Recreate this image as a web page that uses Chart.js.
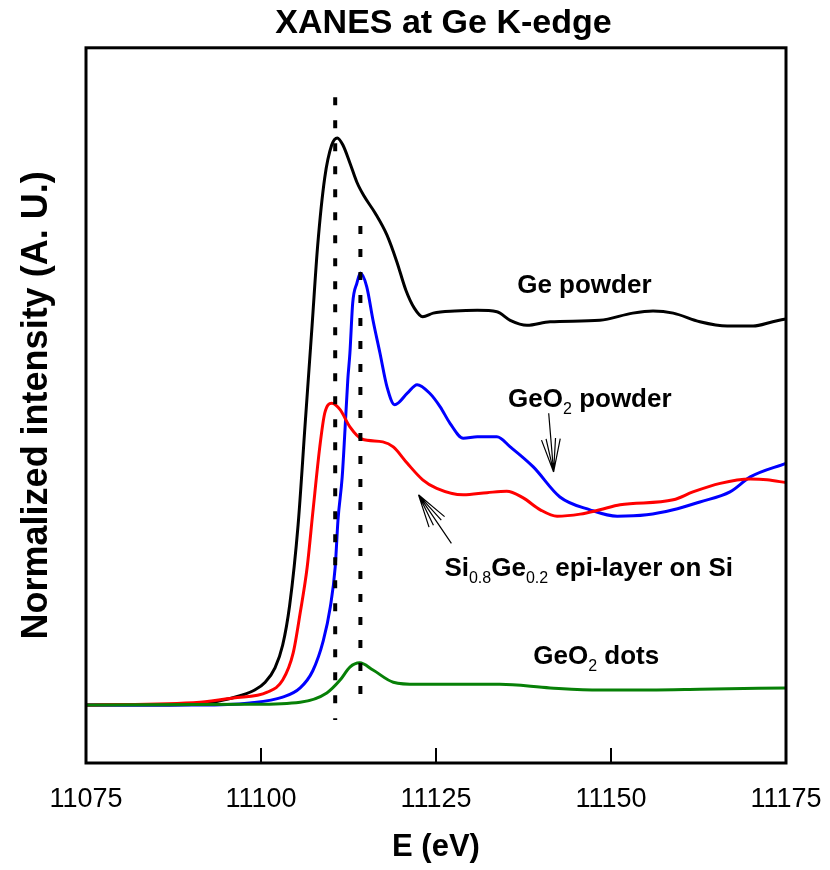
<!DOCTYPE html>
<html>
<head>
<meta charset="utf-8">
<script src="https://cdn.jsdelivr.net/npm/chart.js@4"></script>
<style>
  body { margin: 0; background: #fff; }
  #wrap { width: 830px; height: 870px; }
</style>
</head>
<body>
<div id="wrap"><canvas id="xanes"></canvas></div>
<script>
// energies (eV) and normalized intensity
const geE = [11075, 11085, 11091.3, 11094.1, 11097, 11099.1, 11100.6, 11102, 11103.1, 11104.1, 11105.3, 11106.3, 11107.3, 11108.1, 11109.1, 11110.1, 11110.9, 11111.7, 11112.7, 11113.7, 11114.7, 11116.3, 11118, 11119.4, 11120.7, 11121.9, 11123.1, 11124.6, 11127.7, 11130.9, 11133.7, 11135.6, 11138, 11141.3, 11148.4, 11153.1, 11156, 11158.9, 11162.7, 11166.6, 11170.3, 11173.1, 11175];
const geI = [0, 0, 0.001, 0.006, 0.013, 0.021, 0.032, 0.052, 0.084, 0.140, 0.252, 0.392, 0.531, 0.643, 0.737, 0.783, 0.793, 0.783, 0.758, 0.731, 0.712, 0.688, 0.657, 0.620, 0.580, 0.555, 0.543, 0.548, 0.551, 0.552, 0.550, 0.538, 0.531, 0.536, 0.538, 0.548, 0.551, 0.548, 0.536, 0.530, 0.530, 0.536, 0.540];

const geo2E = [11075, 11091.3, 11098.4, 11103.1, 11105.6, 11107.4, 11108.9, 11109.9, 11110.6, 11111, 11111.6, 11112, 11112.4, 11112.7, 11113.1, 11113.7, 11114.2, 11115.1, 11116, 11117, 11118, 11119.1, 11120.9, 11122.3, 11124.1, 11125.6, 11127, 11128.9, 11130.9, 11133.7, 11135.6, 11138.9, 11142.7, 11147, 11150.9, 11155.1, 11158.9, 11162.7, 11167, 11169.9, 11175];
const geo2I = [0, 0, 0.003, 0.011, 0.024, 0.048, 0.090, 0.137, 0.193, 0.259, 0.319, 0.385, 0.455, 0.492, 0.562, 0.590, 0.604, 0.585, 0.538, 0.492, 0.445, 0.420, 0.436, 0.448, 0.436, 0.417, 0.394, 0.373, 0.375, 0.375, 0.361, 0.333, 0.291, 0.273, 0.264, 0.266, 0.273, 0.284, 0.298, 0.319, 0.338];

const sigeE = [11075, 11091.3, 11096, 11100.9, 11103.1, 11104.6, 11105.6, 11106.6, 11107.4, 11108.4, 11109.1, 11110.1, 11111.3, 11112.7, 11114.4, 11117.4, 11118.9, 11120.9, 11123.1, 11125.1, 11128.9, 11132.3, 11135.1, 11137.4, 11139.9, 11142.3, 11145.6, 11148.4, 11151.3, 11158.9, 11161.7, 11165.6, 11169.9, 11172.3, 11175];
const sigeI = [0, 0.004, 0.010, 0.018, 0.035, 0.073, 0.129, 0.193, 0.269, 0.361, 0.408, 0.422, 0.413, 0.389, 0.372, 0.368, 0.361, 0.338, 0.315, 0.303, 0.294, 0.297, 0.299, 0.290, 0.273, 0.264, 0.267, 0.273, 0.280, 0.287, 0.298, 0.310, 0.316, 0.315, 0.311];

const dotsE = [11075, 11098.4, 11105.6, 11109.4, 11111.3, 11112.7, 11114.1, 11116, 11118.9, 11122.3, 11129.4, 11134.1, 11141.3, 11148.4, 11155.6, 11162.7, 11175];
const dotsI = [0, 0.001, 0.004, 0.017, 0.035, 0.053, 0.059, 0.049, 0.032, 0.029, 0.029, 0.029, 0.024, 0.021, 0.021, 0.022, 0.024];

// dotted guide lines at the two white-line positions
const guide1E = [11110.6, 11110.6];
const guide1I = [0.850, -0.021];
const guide2E = [11114.2, 11114.2];
const guide2I = [0.670, 0.003];

const xTicks = [11075, 11100, 11125, 11150, 11175];

// text labels and arrows, in data coordinates
const notes = [
  { x: 11136.6, y: 0.576, runs: [['Ge powder']] },
  { x: 11135.3, y: 0.417, runs: [['GeO'], ['2', 1], [' powder']] },
  { x: 11126.2, y: 0.181, runs: [['Si'], ['0.8', 1], ['Ge'], ['0.2', 1], [' epi-layer on Si']] },
  { x: 11138.9, y: 0.058, runs: [['GeO'], ['2', 1], [' dots']] }
];
const arrows = [
  { from: [11141.1, 0.408], to: [11141.8, 0.326] },
  { from: [11127.2, 0.226], to: [11122.5, 0.294] }
];

const pts = (xs, ys) => xs.map((x, i) => ({ x: x, y: ys[i] }));
const FONT = "'Liberation Sans', Arial, sans-serif";

const frame = {
  id: 'frame',
  afterLayout(chart) {
    const t = chart.titleBlock, a = chart.chartArea;
    if (t) { t.left = a.left + 15; t.right = a.right; }
  },
  afterDatasetsDraw(chart) {
    const { ctx, chartArea: a, scales: { x, y } } = chart;
    ctx.save();
    ctx.strokeStyle = '#000';
    ctx.lineWidth = 3;
    ctx.strokeRect(a.left, a.top, a.right - a.left, a.bottom - a.top);

    // ticks point inward
    ctx.lineWidth = 2;
    x.ticks.slice(1, -1).forEach(t => {
      const px = x.getPixelForValue(t.value);
      ctx.beginPath();
      ctx.moveTo(px, a.bottom);
      ctx.lineTo(px, a.bottom - 15);
      ctx.stroke();
    });

    // labels with subscripts
    ctx.fillStyle = '#000';
    ctx.textBaseline = 'alphabetic';
    ctx.textAlign = 'left';
    notes.forEach(n => {
      let px = x.getPixelForValue(n.x);
      const py = y.getPixelForValue(n.y);
      n.runs.forEach(r => {
        ctx.font = r[1] ? '16px ' + FONT : 'bold 26px ' + FONT;
        ctx.fillText(r[0], px, py + (r[1] ? 7 : 0));
        px += ctx.measureText(r[0]).width;
      });
    });

    // open arrows
    ctx.lineWidth = 1.2;
    arrows.forEach(ar => {
      const x0 = x.getPixelForValue(ar.from[0]), y0 = y.getPixelForValue(ar.from[1]);
      const x1 = x.getPixelForValue(ar.to[0]), y1 = y.getPixelForValue(ar.to[1]);
      const ang = Math.atan2(y0 - y1, x0 - x1);
      ctx.beginPath();
      ctx.moveTo(x0, y0);
      ctx.lineTo(x1, y1);
      [-0.28, -0.14, 0.14, 0.28].forEach(d => {
        ctx.moveTo(x1, y1);
        ctx.lineTo(x1 + 34 * Math.cos(ang + d), y1 + 34 * Math.sin(ang + d));
      });
      ctx.stroke();
    });
    ctx.restore();
  }
};

const curve = (label, xs, ys, color) => ({
  label: label,
  data: pts(xs, ys),
  borderColor: color,
  borderWidth: 3,
  pointRadius: 0,
  cubicInterpolationMode: 'monotone',
  fill: false
});
const guide = (xs, ys) => ({
  data: pts(xs, ys),
  borderColor: '#000',
  borderWidth: 4,
  borderDash: [8, 15],
  pointRadius: 0,
  fill: false
});

new Chart(document.getElementById('xanes'), {
  type: 'line',
  data: {
    datasets: [
      guide(guide1E, guide1I),
      guide(guide2E, guide2I),
      curve('GeO2 dots', dotsE, dotsI, '#078007'),
      curve('Si0.8Ge0.2 epi-layer on Si', sigeE, sigeI, '#ff0000'),
      curve('GeO2 powder', geo2E, geo2I, '#0000ff'),
      curve('Ge powder', geE, geI, '#000000')
    ]
  },
  options: {
    responsive: true,
    maintainAspectRatio: false,
    animation: false,
    layout: { padding: { left: 12, right: 44, top: 0, bottom: 0 } },
    plugins: {
      legend: { display: false },
      tooltip: { enabled: false },
      title: {
        display: true,
        text: 'XANES at Ge K-edge',
        color: '#000',
        font: { family: FONT, size: 34, weight: 'bold' },
        padding: { top: 3, bottom: 4 }
      }
    },
    scales: {
      x: {
        type: 'linear',
        min: 11075,
        max: 11175,
        afterBuildTicks: s => { s.ticks = xTicks.map(v => ({ value: v })); },
        afterFit: s => { s.height = 107; s.paddingLeft = 0; s.paddingRight = 0; },
        grid: { display: false, drawTicks: false },
        border: { display: false },
        ticks: {
          color: '#000',
          padding: 20,
          maxRotation: 0,
          font: { family: FONT, size: 27 },
          callback: v => String(v)
        },
        title: {
          display: true,
          text: 'E (eV)',
          color: '#000',
          font: { family: FONT, size: 31, weight: 'bold' },
          padding: { top: 0, bottom: 4 }
        }
      },
      y: {
        min: -0.081,
        max: 0.919,
        afterFit: s => { s.width = 74; },
        grid: { display: false, drawTicks: false },
        border: { display: false },
        ticks: { display: false },
        title: {
          display: true,
          text: 'Normalized intensity (A. U.)',
          color: '#000',
          font: { family: FONT, size: 36, weight: 'bold' },
          padding: { top: 3, bottom: 0 }
        }
      }
    }
  },
  plugins: [frame]
});
</script>
</body>
</html>
